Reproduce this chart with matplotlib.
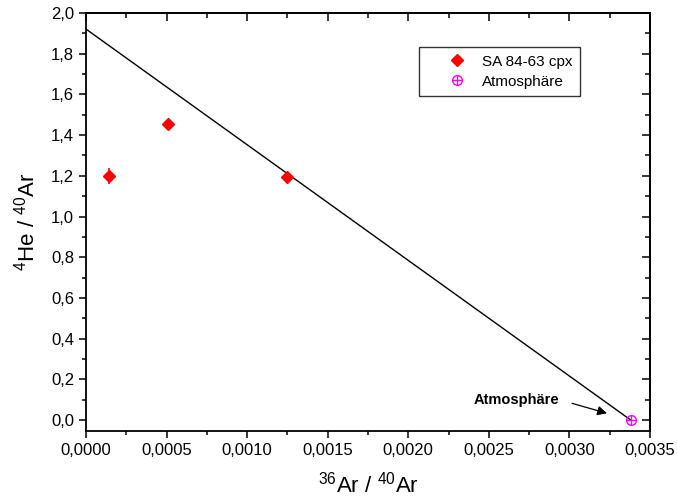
import matplotlib
matplotlib.use("Agg")
import matplotlib.pyplot as plt
from matplotlib.lines import Line2D
from matplotlib.ticker import MultipleLocator, FuncFormatter
from matplotlib.legend_handler import HandlerTuple

plt.rcParams['font.family'] = ['Liberation Sans', 'DejaVu Sans']
plt.rcParams['mathtext.default'] = 'regular'

# sample data (SA 84-63 cpx)
ar36_ar40 = [0.000142, 0.000506, 0.001245]
he4_ar40 = [1.20, 1.455, 1.196]
he4_err = [0.04, 0.0, 0.0]

# atmosphere
atm_x = [0.00338]
atm_y = [0.0]

# mixing line
line_x = [0.0, 0.00338]
line_y = [1.921, 0.0]

fig = plt.figure(figsize=(6.77, 4.99), dpi=100)
ax = fig.add_axes([86 / 677, 1 - 431 / 499, 564 / 677, 418 / 499])

ax.plot(line_x, line_y, color='black', lw=1.0, zorder=2)
ax.errorbar(ar36_ar40, he4_ar40, yerr=he4_err, fmt='D', color='red',
            ms=5.8, ecolor='red', elinewidth=1.2, capsize=0, zorder=3)
ax.plot(atm_x, atm_y, 'o', mfc='none', mec='magenta', ms=7, mew=1.0, zorder=4)
ax.plot(atm_x, atm_y, '+', color='magenta', ms=7, mew=1.0, zorder=4)

# label + arrow pointing at the atmosphere point
ax.text(0.002937, 0.098, 'Atmosphäre', fontsize=10.5, fontweight='bold',
        ha='right', va='center')
ax.annotate('', xy=(0.003233, 0.033), xytext=(0.003016, 0.082),
            arrowprops=dict(arrowstyle='-|>', color='black', lw=0.9,
                            mutation_scale=14, shrinkA=0, shrinkB=0))

ax.set_xlim(0, 0.0035)
ax.set_ylim(-0.054, 2.0)
ax.xaxis.set_major_locator(MultipleLocator(0.0005))
ax.xaxis.set_minor_locator(MultipleLocator(0.00025))
ax.yaxis.set_major_locator(MultipleLocator(0.2))
ax.yaxis.set_minor_locator(MultipleLocator(0.1))
ax.xaxis.set_major_formatter(FuncFormatter(lambda v, p: f"{v:.4f}".replace('.', ',')))
ax.yaxis.set_major_formatter(FuncFormatter(lambda v, p: f"{v:.1f}".replace('.', ',')))

for s in ax.spines.values():
    s.set_linewidth(1.3)
ax.tick_params(which='major', direction='out', length=5, width=1.1, labelsize=12)
ax.tick_params(which='minor', direction='out', length=3, width=1.1)

# mirrored ticks on top and right, pointing inward
top = ax.secondary_xaxis('top')
top.xaxis.set_major_locator(MultipleLocator(0.0005))
top.xaxis.set_minor_locator(MultipleLocator(0.00025))
top.tick_params(which='major', direction='in', length=6, width=1.1, labeltop=False)
top.tick_params(which='minor', direction='in', length=3.5, width=1.1)
right = ax.secondary_yaxis('right')
right.yaxis.set_major_locator(MultipleLocator(0.2))
right.yaxis.set_minor_locator(MultipleLocator(0.1))
right.tick_params(which='major', direction='in', length=6, width=1.1, labelright=False)
right.tick_params(which='minor', direction='in', length=3.5, width=1.1)
for sec in (top, right):
    for s in sec.spines.values():
        s.set_linewidth(1.3)

ax.set_xlabel(r'$^{36}$Ar / $^{40}$Ar', fontsize=16, va='center')
ax.set_ylabel(r'$^{4}$He / $^{40}$Ar', fontsize=16, va='center')
ax.xaxis.set_label_coords(0.5, -0.128)
ax.yaxis.set_label_coords(-0.106, 0.5)

# legend proxies
sa_h = Line2D([], [], ls='none', marker='D', color='red', ms=5.8)
atm_o = Line2D([], [], ls='none', marker='o', mfc='none', mec='magenta', ms=7, mew=1.0)
atm_p = Line2D([], [], ls='none', marker='+', color='magenta', ms=7, mew=1.0)
leg = ax.legend([sa_h, (atm_o, atm_p)], ['SA 84-63 cpx', 'Atmosphäre'],
                handler_map={tuple: HandlerTuple(ndivide=1)},
                loc='upper left', bbox_to_anchor=(419 / 677, 1 - 47 / 499),
                bbox_transform=fig.transFigure, borderaxespad=0,
                fontsize=11, frameon=True, fancybox=False, edgecolor='black',
                handlelength=4.0, handletextpad=-0.4, borderpad=0.5,
                labelspacing=0.4, numpoints=1)
leg.get_frame().set_linewidth(1.0)
leg.get_frame().set_boxstyle('square', pad=0)

fig.savefig('out.png', dpi=100)
